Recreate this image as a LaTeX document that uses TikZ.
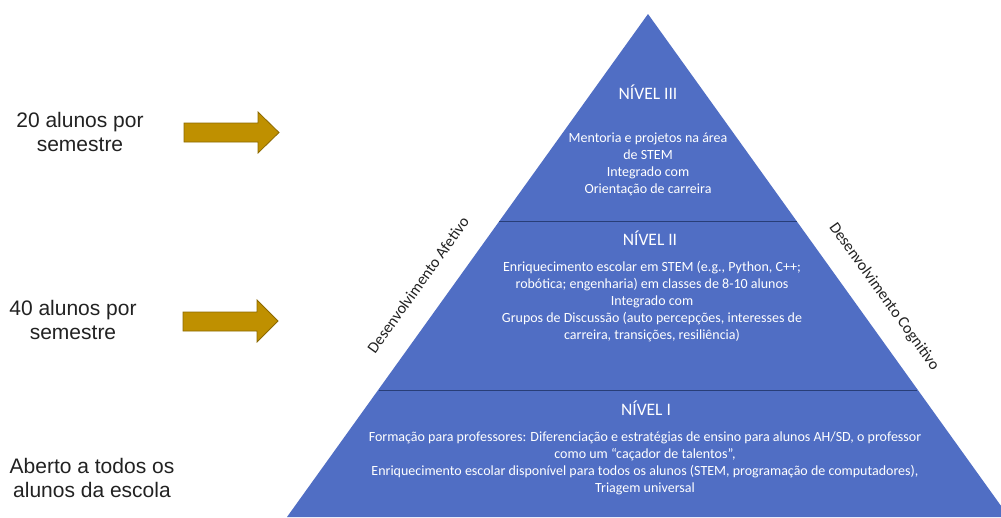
\documentclass[tikz,border=0pt]{standalone}
\usepackage{fontspec}
\setmainfont{Carlito}
\newfontfamily\arialf{Liberation Sans}
\definecolor{pyr}{RGB}{80,110,196}
\definecolor{pyrline}{RGB}{40,62,120}
\definecolor{gold}{RGB}{191,144,0}
\definecolor{golddark}{RGB}{140,105,0}
\definecolor{txt}{RGB}{34,34,34}
\tikzset{
  lefttext/.style={align=center, text=txt, font=\arialf\fontsize{21}{24.5}\selectfont, inner sep=0pt},
  levtitle/.style={text=white, font=\fontsize{17.5}{20}\selectfont, inner sep=0pt},
  levbody/.style={align=center, text=white, font=\fontsize{14}{17}\selectfont, inner sep=0pt},
  sidetext/.style={text=txt, font=\fontsize{16}{18}\selectfont, inner sep=0pt},
  goldarrow/.style={fill=gold, draw=golddark, line width=0.8pt, line join=miter},
  divider/.style={draw=pyrline, line width=1pt}
}
\begin{document}
\begin{tikzpicture}[x=1pt,y=-1pt]
\useasboundingbox (0,0) rectangle (1001,517);
\fill[white] (0,0) rectangle (1001,517);
\begin{scope}
\clip (0,0) rectangle (1001,517);
\coordinate (apex) at (648,14);
\coordinate (bl) at (287,517);
\coordinate (br) at (1009,517);
\fill[pyr] (apex) -- (bl) -- (br) -- cycle;
\coordinate (l2a) at (499,221);
\coordinate (l2b) at (797,221);
\coordinate (l1a) at (379,390);
\coordinate (l1b) at (917,390);
\draw[divider] (l2a) -- (l2b);
\draw[divider] (l1a) -- (l1b);
\end{scope}
% level texts
\node[levtitle] (t3) at (648,92) {NÍVEL III};
\node[levbody] (b3) at (648,164) {Mentoria e projetos na área\\de STEM\\Integrado com\\Orientação de carreira};
\node[levtitle] (t2) at (650,238) {NÍVEL II};
\node[levbody] (b2) at (652,302) {Enriquecimento escolar em STEM (e.g., Python, C++;\\robótica; engenharia) em classes de 8-10 alunos\\Integrado com\\Grupos de Discussão (auto percepções, interesses de\\carreira, transições, resiliência)};
\node[levtitle] (t1) at (646,408) {NÍVEL I};
\node[levbody] (b1) at (645,463) {Formação para professores: Diferenciação e estratégias de ensino para alunos AH/SD, o professor\\como um “caçador de talentos”,\\Enriquecimento escolar disponível para todos os alunos (STEM, programação de computadores),\\Triagem universal};
% side labels
\node[sidetext, rotate=54.4] (afet) at (418,285) {Desenvolvimento Afetivo};
\node[sidetext, rotate=-54.4] (cogn) at (884,297) {Desenvolvimento Cognitivo};
% left texts
\node[lefttext] (n20) at (80,132) {20 alunos por\\semestre};
\node[lefttext] (n40) at (73,320) {40 alunos por\\semestre};
\node[lefttext] (nall) at (92,478) {Aberto a todos os\\alunos da escola};
% arrows
\draw[goldarrow] (184,123) -- (258,123) -- (258,112) -- (279,132.5) -- (258,153) -- (258,142) -- (184,142) -- cycle;
\draw[goldarrow] (183,312) -- (257,312) -- (257,300) -- (278,321) -- (257,342) -- (257,331) -- (183,331) -- cycle;
\end{tikzpicture}
\end{document}
